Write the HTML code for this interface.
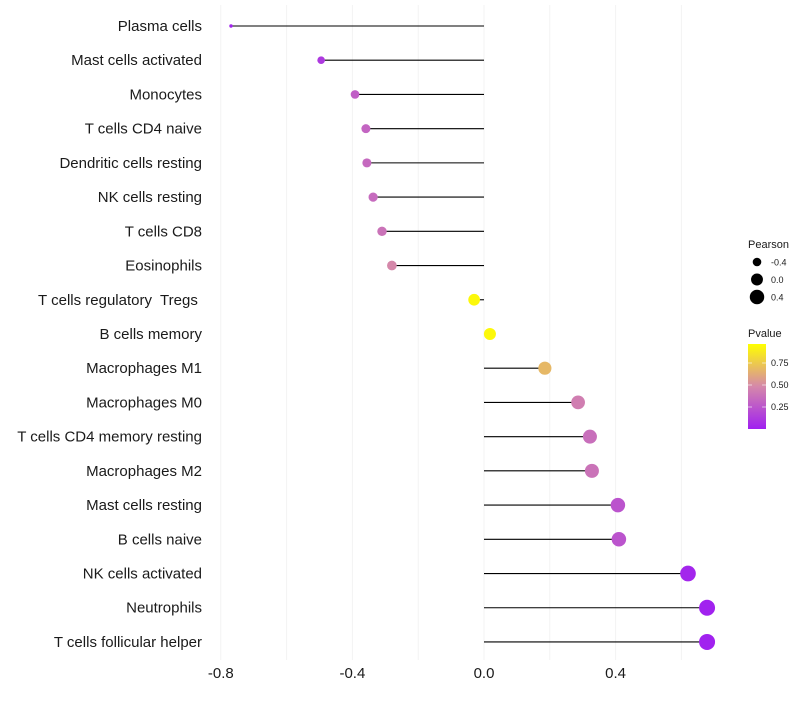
<!DOCTYPE html>
<html><head><meta charset="utf-8"><style>
body{margin:0;background:#fff;font-family:"Liberation Sans",sans-serif}
text{white-space:pre}
</style></head><body>
<svg id="c" width="800" height="700" xmlns="http://www.w3.org/2000/svg"></svg>
<script>
const cats=["Plasma cells","Mast cells activated","Monocytes","T cells CD4 naive","Dendritic cells resting","NK cells resting","T cells CD8","Eosinophils","T cells regulatory  Tregs ","B cells memory","Macrophages M1","Macrophages M0","T cells CD4 memory resting","Macrophages M2","Mast cells resting","B cells naive","NK cells activated","Neutrophils","T cells follicular helper"];
const pearson=[-0.769,-0.495,-0.392,-0.359,-0.356,-0.337,-0.31,-0.28,-0.03,0.018,0.185,0.286,0.322,0.328,0.407,0.41,0.62,0.678,0.678];
const pvalue=[0.02,0.12,0.3,0.33,0.35,0.36,0.4,0.5,0.97,0.97,0.7,0.45,0.38,0.4,0.25,0.25,0.03,0.01,0.01];
const xticks=[-0.8,-0.4,0,0.4];
const xtickLabels=["-0.8","-0.4","0.0","0.4"];
const sizeLegend=[-0.4,0,0.4];
const cbTicks=[0.25,0.5,0.75];
const NS="http://www.w3.org/2000/svg",svg=document.getElementById('c');
function el(t,a,p){const e=document.createElementNS(NS,t);for(const k in a)e.setAttribute(k,a[k]);(p||svg).appendChild(e);return e;}
const x=v=>484+v*329;
const y=i=>26+i*34.22;
const pmin=Math.min(...pearson),pmax=Math.max(...pearson);
const r=v=>{const t=(v-pmin)/(pmax-pmin);return Math.sqrt(3+t*61);};
function lerp(a,b,t){return a.map((c,i)=>Math.round(c+(b[i]-c)*t));}
const stops=[[0,[160,32,240]],[0.5,[213,136,170]],[1,[255,255,0]]];
function col(p){p=Math.max(0,Math.min(1,p));for(let i=0;i<stops.length-1;i++){if(p<=stops[i+1][0]){const t=(p-stops[i][0])/(stops[i+1][0]-stops[i][0]);return 'rgb('+lerp(stops[i][1],stops[i+1][1],t).join(',')+')';}}}
for(let v=-0.8;v<=0.61;v+=0.2){const g=el('line',{x1:x(v),x2:x(v),y1:5,y2:660,stroke:'#f3f3f3','stroke-width':1});

}
xticks.forEach((v,i)=>{const t=el('text',{x:x(v),y:678,'text-anchor':'middle','font-size':15,fill:'#1a1a1a'});t.textContent=xtickLabels[i];

});
cats.forEach((c,i)=>{
const t=el('text',{x:202,y:y(i)+5,'text-anchor':'end','font-size':15,fill:'#1a1a1a'});t.textContent=c;


const l=el('line',{x1:x(0),x2:x(pearson[i]),y1:y(i),y2:y(i),stroke:'#000','stroke-width':1.1});


const d=el('circle',{cx:x(pearson[i]),cy:y(i),r:r(pearson[i]),fill:col(pvalue[i])});


});
const lt=el('text',{x:748,y:248,'font-size':11,fill:'#1a1a1a'});lt.textContent='Pearson';


sizeLegend.forEach((v,i)=>{const yy=262+i*17.5;
const c=el('circle',{cx:757,cy:yy,r:r(v),fill:'#000'});


const t=el('text',{x:771,y:yy+3.5,'font-size':9,fill:'#1a1a1a'});t.textContent=v===0?'0.0':String(v);

});
const pt=el('text',{x:748,y:337,'font-size':11,fill:'#1a1a1a'});pt.textContent='Pvalue';


const defs=el('defs',{});const lg=el('linearGradient',{id:'g',x1:0,y1:1,x2:0,y2:0},defs);
stops.forEach(s=>el('stop',{offset:s[0],'stop-color':'rgb('+s[1].join(',')+')'},lg));
const cb=el('rect',{x:748,y:344,width:18,height:85,fill:'url(#g)'});


const cy=p=>429-p*88;
cbTicks.forEach(p=>{el('line',{x1:748,x2:752,y1:cy(p),y2:cy(p),stroke:'#fff','stroke-width':0.6});el('line',{x1:762,x2:766,y1:cy(p),y2:cy(p),stroke:'#fff','stroke-width':0.6});
const t=el('text',{x:771,y:cy(p)+3,'font-size':9,fill:'#1a1a1a'});t.textContent=p.toFixed(2);

});
</script>
</body></html>
